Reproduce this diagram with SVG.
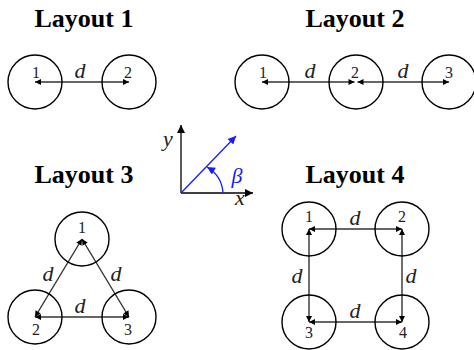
<svg xmlns="http://www.w3.org/2000/svg" width="474" height="350" viewBox="0 0 474 350">
<style>
.title{font-family:"Liberation Serif",serif;font-weight:bold;font-size:26px;text-anchor:middle;fill:#000}
.num{font-family:"Liberation Serif",serif;font-size:16px;text-anchor:middle;fill:#222}
.d{font-family:"Liberation Serif",serif;font-style:italic;font-size:22px;text-anchor:middle;fill:#222}
.node{fill:none;stroke:#000;stroke-width:1.4}
.link{fill:none;stroke:#333;stroke-width:1.4;marker-start:url(#a);marker-end:url(#a)}
.ax{fill:none;stroke:#000;stroke-width:1.3;marker-end:url(#ak)}
.bl{fill:none;stroke:#1a1aff;stroke-width:1.3;marker-end:url(#ab)}
</style>
<defs>
<marker id="a" viewBox="0 0 10 10" refX="10" refY="5" markerWidth="7" markerHeight="6" markerUnits="userSpaceOnUse" orient="auto-start-reverse"><path d="M0,0L10,5L0,10z" fill="#000"/></marker>
<marker id="ak" viewBox="0 0 10 10" refX="10" refY="5" markerWidth="9" markerHeight="8" markerUnits="userSpaceOnUse" orient="auto"><path d="M0,0L10,5L0,10z" fill="#000"/></marker>
<marker id="ab" viewBox="0 0 10 10" refX="10" refY="5" markerWidth="10" markerHeight="8" markerUnits="userSpaceOnUse" orient="auto"><path d="M0,0L10,5L0,10z" fill="#1a1aff"/></marker>
</defs>
<text class="title" x="84" y="27">Layout 1</text>
<text class="title" x="355" y="27">Layout 2</text>
<text class="title" x="84" y="183">Layout 3</text>
<text class="title" x="355" y="183">Layout 4</text>
<g id="connectors">
<line class="link" x1="35" y1="82" x2="129" y2="82"/>
<line class="link" x1="262" y1="82" x2="354.5" y2="82"/>
<line class="link" x1="357.5" y1="82" x2="449" y2="82"/>
<line class="link" x1="82" y1="239" x2="35" y2="317"/>
<line class="link" x1="82" y1="239" x2="129" y2="317"/>
<line class="link" x1="35" y1="317" x2="129" y2="317"/>
<line class="link" x1="309" y1="229" x2="402" y2="229"/>
<line class="link" x1="309" y1="322" x2="402" y2="322"/>
<line class="link" x1="309" y1="229" x2="309" y2="322"/>
<line class="link" x1="402" y1="229" x2="402" y2="322"/>
</g>
<g id="L1n1"><circle class="node" cx="35" cy="82" r="27"/><text class="num" x="36" y="78">1</text></g>
<g id="L1n2"><circle class="node" cx="129" cy="82" r="27"/><text class="num" x="128" y="78">2</text></g>
<text class="d" x="80" y="78">d</text>
<g id="L2n1"><circle class="node" cx="262" cy="82" r="27"/><text class="num" x="263" y="78">1</text></g>
<g id="L2n2"><circle class="node" cx="356" cy="82" r="27"/><text class="num" x="355" y="78">2</text></g>
<g id="L2n3"><circle class="node" cx="449" cy="82" r="27"/><text class="num" x="449" y="78">3</text></g>
<text class="d" x="310" y="78">d</text>
<text class="d" x="403" y="78">d</text>
<g id="axes">
<line class="ax" x1="181" y1="193" x2="181" y2="125"/>
<line class="ax" x1="181" y1="193" x2="253" y2="193"/>
<line class="bl" x1="181" y1="193" x2="236" y2="136"/>
<path class="bl" d="M223,193 Q222,176 207,167"/>
<text class="d" x="168" y="146">y</text>
<text class="d" x="240" y="205">x</text>
<text class="d" x="237" y="183" style="fill:#1a1aff">β</text>
</g>
<g id="L3n1"><circle class="node" cx="82" cy="239" r="27"/><text class="num" x="82" y="233">1</text></g>
<g id="L3n2"><circle class="node" cx="35" cy="317" r="27"/><text class="num" x="36" y="335">2</text></g>
<g id="L3n3"><circle class="node" cx="129" cy="317" r="27"/><text class="num" x="128" y="335">3</text></g>
<text class="d" x="48" y="281">d</text>
<text class="d" x="116" y="281">d</text>
<text class="d" x="80" y="313">d</text>
<g id="L4n1"><circle class="node" cx="309" cy="229" r="27"/><text class="num" x="309" y="222">1</text></g>
<g id="L4n2"><circle class="node" cx="402" cy="229" r="27"/><text class="num" x="402" y="222">2</text></g>
<g id="L4n3"><circle class="node" cx="309" cy="322" r="27"/><text class="num" x="309" y="338">3</text></g>
<g id="L4n4"><circle class="node" cx="402" cy="322" r="27"/><text class="num" x="403" y="338">4</text></g>
<text class="d" x="355" y="225">d</text>
<text class="d" x="355" y="318">d</text>
<text class="d" x="297" y="283">d</text>
<text class="d" x="411" y="283">d</text>
</svg>
